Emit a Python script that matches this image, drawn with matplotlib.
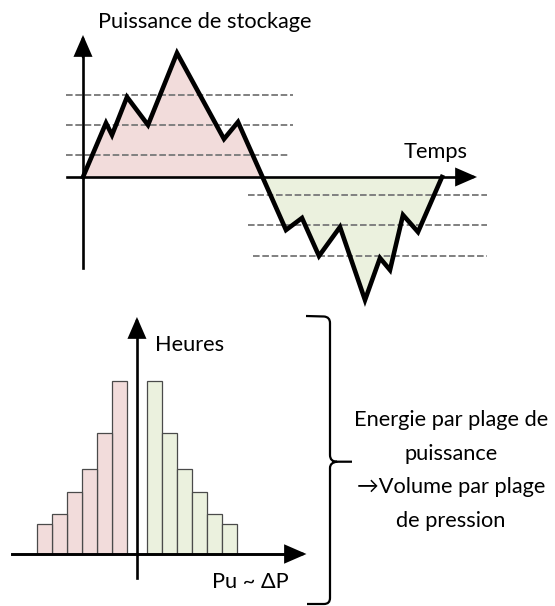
import matplotlib
matplotlib.use("Agg")
import matplotlib.pyplot as plt
from matplotlib.path import Path
from matplotlib.patches import PathPatch

# Storage power over time (arbitrary units): charging > 0, discharging < 0
time = [0.0, 2.3, 2.9, 4.4, 6.5, 9.4, 14.1, 15.5, 17.95,
        20.3, 21.9, 23.6, 25.7, 28.2, 29.7, 30.7, 32.0, 33.5, 35.9]
power = [0.0, 5.4, 4.2, 8.0, 5.2, 12.4, 3.8, 5.5, 0.0,
         -5.3, -4.1, -7.9, -5.0, -12.3, -8.1, -9.3, -3.8, -5.5, 0.0]
i_cross = 8  # index where the power changes sign

# Power range boundaries
levels_charge = [8.2, 5.2, 2.2]
levels_discharge = [-1.8, -4.8, -7.9]

# Hours spent in each power class (class 1 is closest to zero)
classes = [1, 2, 3, 4, 5, 6]
hours_charge = [17.3, 12.1, 8.5, 6.2, 4.0, 3.0]
hours_discharge = [17.3, 12.1, 8.5, 6.2, 4.0, 3.0]

PINK = "#F2DCDB"
GREEN = "#EBF1DE"
FONT = ["Lato", "DejaVu Sans"]
W, H = 555, 606

fig = plt.figure(figsize=(W / 100, H / 100), dpi=100)


def arrow(ax, x0, y0, x1, y1, lw=1.9):
    ax.annotate("", xy=(x1, y1), xytext=(x0, y0),
                arrowprops=dict(arrowstyle="-|>,head_length=0.62,head_width=0.27",
                                mutation_scale=20, lw=lw, color="black",
                                shrinkA=0, shrinkB=0, joinstyle="miter"),
                zorder=6)


# ---------- top panel: power vs time ----------
top_h = 330
ax1 = fig.add_axes([0, 1 - top_h / H, 1, top_h / H])
ax1.set_xlim(-8.3, 47.2)
ax1.set_ylim(-15.3, 17.7)
ax1.axis("off")

ax1.fill(time[:i_cross + 1], power[:i_cross + 1], color=PINK, lw=0, zorder=1)
ax1.fill(time[i_cross:], power[i_cross:], color=GREEN, lw=0, zorder=1)

for lv, (a, b) in zip(levels_charge, [(-1.7, 21.0), (-1.7, 21.0), (-1.7, 20.5)]):
    ax1.plot([a, b], [lv, lv], color="#808080", lw=1.4, dashes=(3.4, 1.4), zorder=2)
for lv, (a, b) in zip(levels_discharge, [(16.5, 40.4), (16.5, 40.4), (17.0, 40.4)]):
    ax1.plot([a, b], [lv, lv], color="#808080", lw=1.4, dashes=(3.4, 1.4), zorder=2)

ax1.plot(time, power, color="black", lw=3.3, solid_joinstyle="miter", zorder=4)

# axes
ax1.plot([0, 0], [-9.1, 12.6], color="black", lw=1.9, zorder=3)
arrow(ax1, 0, 12.0, 0, 14.2)
ax1.plot([-1.6, 38.2], [0, 0], color="black", lw=1.9, zorder=3)
arrow(ax1, 37.5, 0, 39.4, 0)

# ---------- bottom panel: hours per power class ----------
bot_h = 306
ax2 = fig.add_axes([0, 0, 1, bot_h / H])
ax2.set_xlim(-9.13, 27.87)
ax2.set_ylim(-5.2, 25.4)
ax2.axis("off")

gap = 0.18
xl = [-(c + gap) for c in classes]
xr = [c + gap for c in classes]
ax2.bar(xl, hours_charge, width=1.0, color=PINK, edgecolor="#4a4a4a", lw=0.9, zorder=2)
ax2.bar(xr, hours_discharge, width=1.0, color=GREEN, edgecolor="#4a4a4a", lw=0.9, zorder=2)

ax2.plot([0, 0], [-2.4, 22.6], color="black", lw=1.9, zorder=3)
arrow(ax2, 0, 22.0, 0, 23.7)
ax2.plot([-8.33, 10.5], [0, 0], color="black", lw=2.1, zorder=3)
arrow(ax2, 10.0, 0, 11.3, 0, lw=2.1)

# ---------- overlay: labels and brace (pixel coordinates) ----------
ov = fig.add_axes([0, 0, 1, 1])
ov.set_xlim(0, W)
ov.set_ylim(H, 0)
ov.axis("off")

fs = 15.7
ov.text(205, 28, "Puissance de stockage", family=FONT, fontsize=fs,
        ha="center", va="baseline")
ov.text(436, 158, "Temps", family=FONT, fontsize=fs, ha="center", va="baseline")
ov.text(155, 351, "Heures", family=FONT, fontsize=fs, ha="left", va="baseline")
ov.text(250, 588, "Pu ~ ΔP", family=FONT, fontsize=fs, ha="center", va="baseline")

lines = ["Energie par plage de", "puissance", "→Volume par plage", "de pression"]
for k, s in enumerate(lines):
    ov.text(451, 426 + 33.7 * k, s, family=FONT, fontsize=fs,
            ha="center", va="baseline")

verts = [(306, 316), (324, 316.5), (330, 317), (330, 323), (330, 455),
         (330, 461.7), (337, 461.7), (352, 461.7),
         (337, 461.7), (330, 462.5), (330, 468), (330, 598),
         (330, 604), (324, 604), (307, 604)]
codes = [Path.MOVETO, Path.LINETO, Path.CURVE3, Path.CURVE3, Path.LINETO,
         Path.CURVE3, Path.CURVE3, Path.LINETO,
         Path.MOVETO, Path.CURVE3, Path.CURVE3, Path.LINETO,
         Path.CURVE3, Path.CURVE3, Path.LINETO]
ov.add_patch(PathPatch(Path(verts, codes), fill=False, lw=1.6, color="black"))

fig.savefig("out.png", dpi=100)
